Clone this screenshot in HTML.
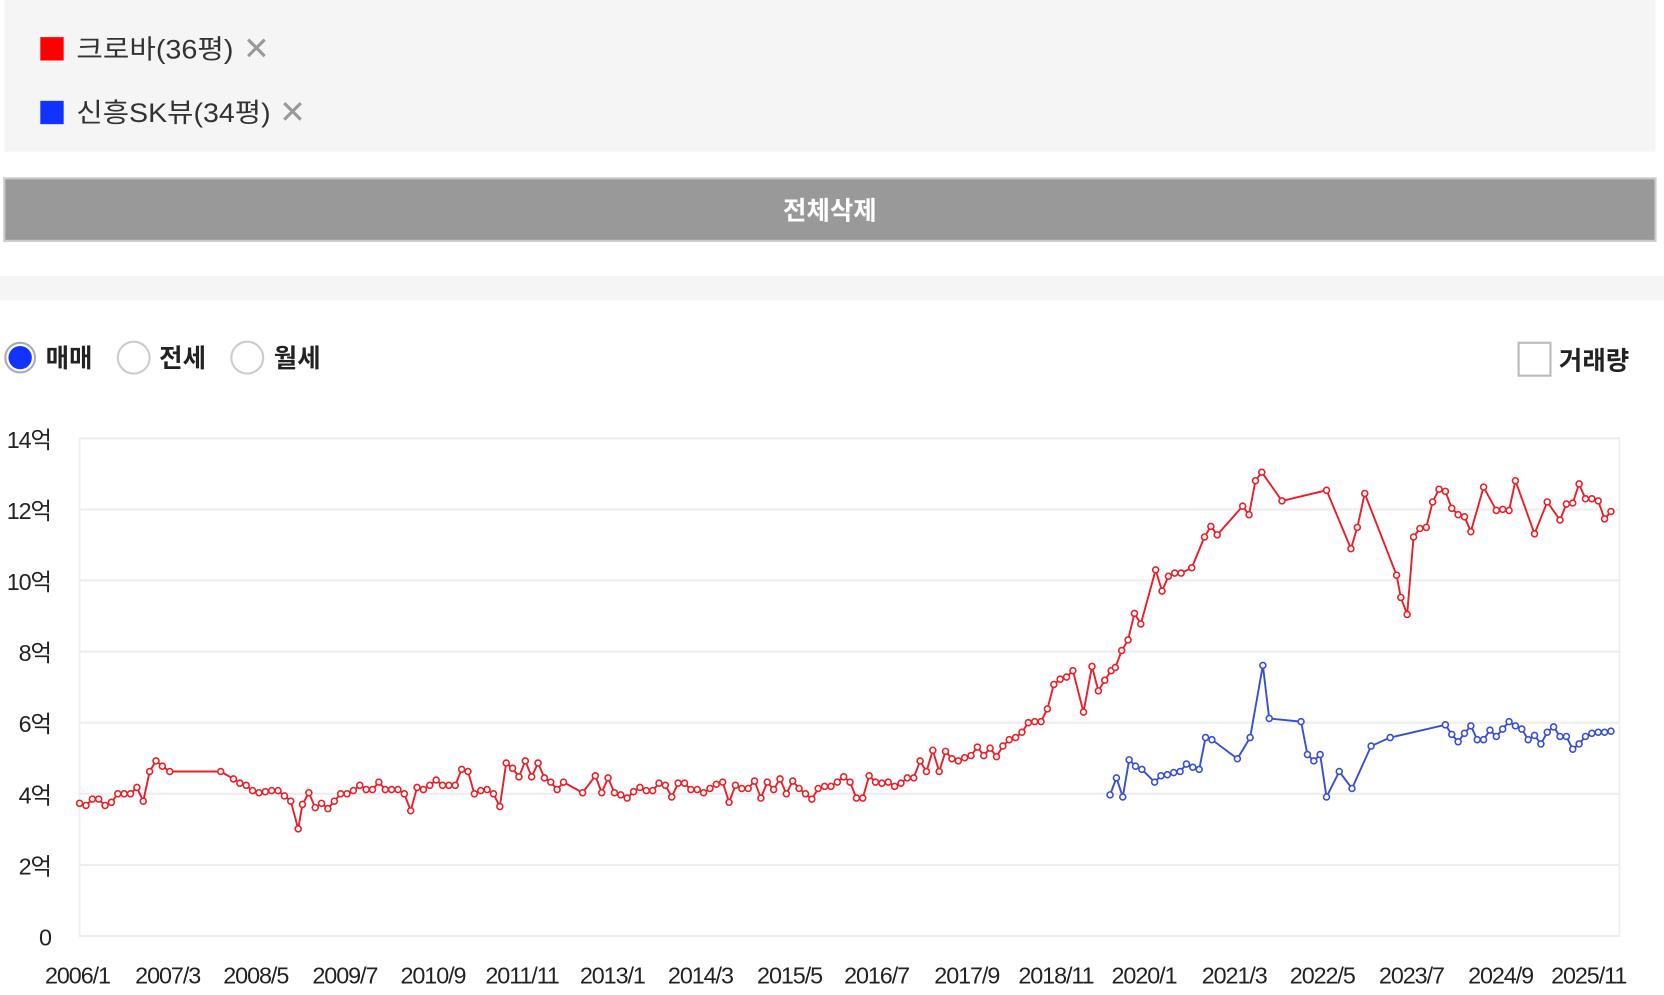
<!DOCTYPE html>
<html><head><meta charset="utf-8"><style>
html,body{margin:0;padding:0;background:#fff;width:1664px;height:995px;overflow:hidden}
svg{display:block}
text{font-family:"Liberation Sans","Noto Sans CJK KR",sans-serif}
</style></head><body>
<svg id="s" width="1664" height="995" viewBox="0 0 1568 937.6" preserveAspectRatio="none" xmlns="http://www.w3.org/2000/svg">
<rect x="4" y="0" width="1556" height="143" fill="#f5f5f5"/>
<rect x="38" y="35" width="22" height="22" fill="#f00"/>
<text x="72" y="55" font-size="25" fill="#333" font-family="Noto Sans CJK KR, sans-serif" textLength="148" lengthAdjust="spacingAndGlyphs">크로바(36평)</text>
<text x="229" y="56" font-size="30" fill="#999" font-family="DejaVu Sans, sans-serif">✕</text>
<rect x="38" y="95" width="22" height="22" fill="#1133ff"/>
<text x="72" y="115" font-size="25" fill="#333" font-family="Noto Sans CJK KR, sans-serif" textLength="183" lengthAdjust="spacingAndGlyphs">신흥SK뷰(34평)</text>
<text x="263" y="116" font-size="30" fill="#999" font-family="DejaVu Sans, sans-serif">✕</text>
<rect x="4" y="168" width="1556" height="59" fill="#999" stroke="#ccc" stroke-width="2"/>
<text x="782" y="207" font-size="24" font-weight="bold" fill="#fff" text-anchor="middle" font-family="Noto Sans CJK KR, sans-serif">전체삭제</text>
<rect x="0" y="260" width="1568" height="23" fill="#f5f5f5"/>
<circle cx="19" cy="337" r="14" fill="#fff" stroke="#aab" stroke-width="2"/>
<circle cx="19" cy="337" r="11" fill="#1133ff"/>
<text x="43" y="346" font-size="24" font-weight="bold" fill="#222" font-family="Noto Sans CJK KR, sans-serif">매매</text>
<circle cx="126" cy="337" r="15" fill="#fff" stroke="#ccc" stroke-width="2"/>
<text x="150" y="346" font-size="24" font-weight="bold" fill="#222" font-family="Noto Sans CJK KR, sans-serif">전세</text>
<circle cx="233" cy="337" r="15" fill="#fff" stroke="#ccc" stroke-width="2"/>
<text x="258" y="346" font-size="24" font-weight="bold" fill="#222" font-family="Noto Sans CJK KR, sans-serif">월세</text>
<rect x="1431" y="323" width="30" height="31" fill="#fff" stroke="#bbb" stroke-width="2"/>
<text x="1469" y="348" font-size="24" font-weight="bold" fill="#222" font-family="Noto Sans CJK KR, sans-serif">거래량</text>
<g id="grid"></g>
<g id="series"></g>
</svg>
<script>
var NS="http://www.w3.org/2000/svg",svg=document.getElementById('s');
function el(t,a,p,txt){var e=document.createElementNS(NS,t);for(var k in a)e.setAttribute(k,a[k]);if(txt)e.textContent=txt;(p||svg).appendChild(e);return e;}
var g=document.getElementById('grid');
el('rect',{x:75,y:413,width:1451,height:469,fill:'none',stroke:'#eee','stroke-width':1.5},g);
var yl=['0','2억','4억','6억','8억','10억','12억','14억'];
for(var i=0;i<8;i++){var y=882-67*i;
 el('line',{x1:75,x2:1526,y1:y,y2:y,stroke:'#eee','stroke-width':2},g);
 el('text',{x:48,y:y+9,'font-size':22,fill:'#222','text-anchor':'end','letter-spacing':'-1'},g,yl[i]);}
var xl=[[73,'2006/1'],[158,'2007/3'],[241,'2008/5'],[325,'2009/7'],[408,'2010/9'],[492,'2011/11'],[577,'2013/1'],[660,'2014/3'],[744,'2015/5'],[826,'2016/7'],[911,'2017/9'],[995,'2018/11'],[1078,'2020/1'],[1163,'2021/3'],[1246,'2022/5'],[1330,'2023/7'],[1414,'2024/9'],[1497,'2025/11']];
xl.forEach(function(a){el('text',{x:a[0],y:927,'font-size':22,fill:'#222','text-anchor':'middle','letter-spacing':'-1'},g,a[1]);});
var red="75,757 81,759 87,753 93,753 99,759 105,756 111,748 117,748 123,748 129,742 135,755 141,727 147,717 153,722 160,727 208,727 220,734 226,738 232,740 238,745 244,747 250,746 256,745 262,745 268,750 274,755 281,781 285,758 291,747 297,761 303,757 309,762 315,755 321,748 327,748 333,745 339,740 345,744 351,744 357,737 363,744 369,744 375,744 381,748 387,764 393,742 399,744 405,740 411,735 417,740 423,740 429,740 435,725 441,727 447,748 453,745 459,744 465,748 471,760 477,719 483,724 489,732 495,717 501,732 507,719 513,733 519,737 525,744 531,737 549,747 561,731 567,747 573,733 579,747 585,749 591,752 597,746 603,742 609,745 615,745 621,738 627,740 633,751 639,738 645,738 651,744 657,744 663,747 669,743 675,739 681,737 687,756 693,740 699,743 705,743 711,736 717,752 723,737 729,744 735,734 741,748 747,736 753,743 759,748 765,753 771,743 777,741 783,741 789,737 795,732 801,737 807,752 813,752 819,731 825,737 831,738 837,737 843,741 849,738 855,733 861,733 867,717 873,727 879,707 885,727 891,708 897,715 903,717 909,714 915,712 921,704 927,712 933,705 939,713 945,703 951,697 957,695 963,690 969,681 975,680 981,680 987,668 993,645 999,640 1005,638 1011,632 1021,671 1029,628 1035,651 1041,641 1047,632 1051,629 1057,613 1063,603 1069,578 1075,588 1089,537 1095,557 1101,543 1107,540 1113,540 1123,535 1135,506 1141,496 1147,504 1171,477 1177,485 1183,453 1189,445 1208,472 1250,462 1273,517 1279,497 1286,465 1316,542 1320,563 1326,579 1332,506 1338,498 1344,497 1350,473 1356,461 1362,463 1368,479 1374,485 1380,487 1386,501 1398,459 1410,481 1416,480 1422,481 1428,453 1446,503 1458,473 1470,490 1476,475 1482,474 1488,456 1494,470 1500,470 1506,472 1512,489 1518,482";
var blue="1046,749 1052,733 1058,751 1064,716 1070,722 1076,725 1088,737 1094,731 1100,730 1106,728 1112,727 1118,720 1124,723 1130,725 1136,695 1142,697 1166,715 1178,695 1190,627 1196,677 1226,680 1232,711 1238,717 1244,711 1250,751 1262,727 1274,743 1292,703 1310,695 1362,683 1368,692 1374,699 1380,691 1386,684 1392,697 1398,697 1404,688 1410,694 1416,687 1422,680 1428,684 1434,687 1440,697 1446,693 1452,701 1458,690 1464,685 1470,694 1476,694 1482,706 1488,701 1494,694 1500,691 1506,690 1512,690 1518,689";
var sg=document.getElementById('series');
[[red,'#e8202a'],[blue,'#3a4fd0']].forEach(function(d){
 el('polyline',{points:d[0],fill:'none',stroke:d[1],'stroke-width':1.8},sg);
 d[0].split(' ').forEach(function(p){var c=p.split(',');el('circle',{cx:c[0],cy:c[1],r:2.8,fill:'#fff',stroke:d[1],'stroke-width':1.5},sg);});
});
</script>
</body></html>
